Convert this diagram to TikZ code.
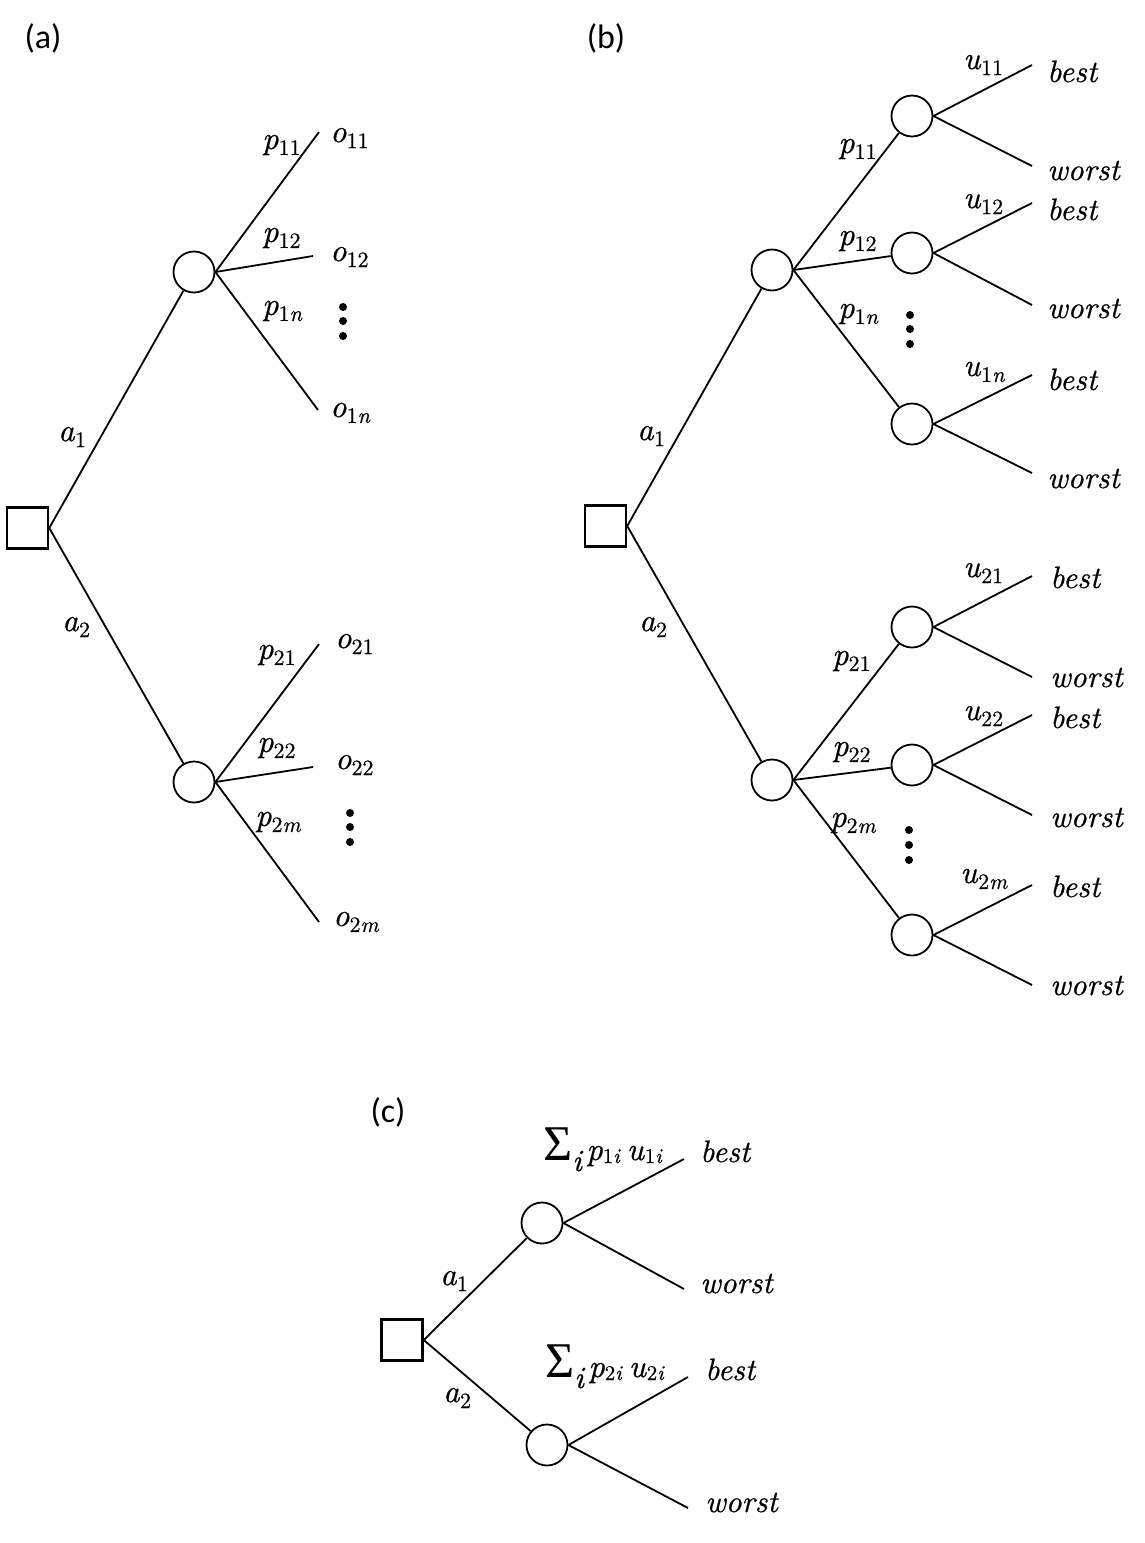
\documentclass[tikz,border=0pt]{standalone}
\usepackage{fontspec}
\setmainfont{lmroman10-regular.otf}[ItalicFont=lmroman10-italic.otf, FakeBold=0.6]
\newfontfamily\labfont{Carlito}
\newfontfamily\sigfont{Liberation Serif}
\newcommand\sublab[2]{\textit{#1}\raisebox{-6pt}{\fontsize{22}{22}\selectfont #2}}
\newcommand\sumlab[1]{{\sigfont\fontsize{50}{50}\selectfont Σ}\raisebox{-11pt}{\fontsize{31}{31}\selectfont\textit{i}}\hspace{3pt}{\fontsize{32}{32}\selectfont\textit{p}}\raisebox{-3pt}{\fontsize{21}{21}\selectfont #1\textit{i}}\hspace{6pt}{\fontsize{32}{32}\selectfont\textit{u}}\raisebox{-3pt}{\fontsize{21}{21}\selectfont #1\textit{i}}}
\tikzset{
  decbox/.style={draw, line width=2.5pt, minimum size=41pt, inner sep=0pt},
  chance/.style={draw, circle, line width=1.8pt, minimum size=41pt, inner sep=0pt},
  conn/.style={line width=1.8pt},
  lab/.style={inner sep=0pt, anchor=west, font=\fontsize{32}{36}\selectfont},
  leaf/.style={inner sep=0pt, anchor=base west, font=\fontsize{31}{36}\selectfont},
  panel/.style={inner sep=0pt, font=\labfont\fontsize{34}{40}\selectfont},
  dotmark/.style={circle, fill, inner sep=0pt, minimum size=8pt},
}
\begin{document}
\begin{tikzpicture}[x=1pt,y=-1pt]
\useasboundingbox (0,0) rectangle (1145,1543);
% ---------------- (a) ----------------
\node[panel] (pa) at (43,38) {(a)};
\node[decbox] (sqa) at (27.5,528) {};
\node[chance] (ca1) at (194,272) {};
\node[chance] (ca2) at (194,782) {};
\coordinate (ea11) at (319,132);
\coordinate (ea12) at (313,256);
\coordinate (ea13) at (318,410);
\coordinate (ea21) at (319,644);
\coordinate (ea22) at (313,767);
\coordinate (ea23) at (319,922);
\draw[conn] (sqa.east) -- (ca1);
\draw[conn] (sqa.east) -- (ca2);
\foreach \k in {1,2,3}{
  \draw[conn] (ca1.east) -- (ea1\k);
  \draw[conn] (ca2.east) -- (ea2\k);
}
\node[lab] (la1) at (58,437) {\sublab{a}{1}};
\node[lab] (la2) at (62,627) {\sublab{a}{2}};
\node[lab] (lp11) at (262,145) {\sublab{p}{11}};
\node[lab] (lo11) at (330,138) {\sublab{o}{11}};
\node[lab] (lp12) at (262,238) {\sublab{p}{12}};
\node[lab] (lo12) at (330,257) {\sublab{o}{12}};
\node[lab] (lp1n) at (262,311) {\sublab{p}{1\textit{n}}};
\node[lab] (lo1n) at (330,413) {\sublab{o}{1\textit{n}}};
\node[lab] (lp21) at (257,655) {\sublab{p}{21}};
\node[lab] (lo21) at (335,644) {\sublab{o}{21}};
\node[lab] (lp22) at (257,748) {\sublab{p}{22}};
\node[lab] (lo22) at (335,765) {\sublab{o}{22}};
\node[lab] (lp2m) at (255,822) {\sublab{p}{2\textit{m}}};
\node[lab] (lo2m) at (333,922) {\sublab{o}{2\textit{m}}};
\node[dotmark] (da1) at (343,307) {};
\node[dotmark] (da2) at (343,321) {};
\node[dotmark] (da3) at (343,336) {};
\node[dotmark] (da4) at (350,813) {};
\node[dotmark] (da5) at (350,827) {};
\node[dotmark] (da6) at (350,842) {};
% ---------------- (b) ----------------
\node[panel] (pb) at (606,38) {(b)};
\node[decbox] (sqb) at (605.5,526) {};
\node[chance] (mb1) at (772,270) {};
\node[chance] (mb2) at (772,780) {};
\node[chance] (rb11) at (912,116) {};
\node[chance] (rb12) at (912,253) {};
\node[chance] (rb13) at (912,424) {};
\node[chance] (rb21) at (912,627) {};
\node[chance] (rb22) at (912,765) {};
\node[chance] (rb23) at (912,935) {};
\draw[conn] (sqb.east) -- (mb1);
\draw[conn] (sqb.east) -- (mb2);
\foreach \k in {1,2,3}{
  \draw[conn] (mb1.east) -- (rb1\k);
  \draw[conn] (mb2.east) -- (rb2\k);
}
\coordinate (bb11) at (1032,65);  \coordinate (wb11) at (1032,166);
\coordinate (bb12) at (1032,203); \coordinate (wb12) at (1032,305);
\coordinate (bb13) at (1032,375); \coordinate (wb13) at (1032,473);
\coordinate (bb21) at (1032,576); \coordinate (wb21) at (1032,677);
\coordinate (bb22) at (1032,715); \coordinate (wb22) at (1032,815);
\coordinate (bb23) at (1032,885); \coordinate (wb23) at (1032,985);
\foreach \g in {1,2}{
  \foreach \k in {1,2,3}{
    \draw[conn] (rb\g\k.east) -- (bb\g\k);
    \draw[conn] (rb\g\k.east) -- (wb\g\k);
  }
}
\node[leaf] (tb11) at (1047,82) {\textit{best}};
\node[leaf] (tw11) at (1047,180) {\textit{worst}};
\node[leaf] (tb12) at (1047,220) {\textit{best}};
\node[leaf] (tw12) at (1047,318) {\textit{worst}};
\node[leaf] (tb13) at (1047,390) {\textit{best}};
\node[leaf] (tw13) at (1047,488) {\textit{worst}};
\node[leaf] (tb21) at (1050,588) {\textit{best}};
\node[leaf] (tw21) at (1050,687) {\textit{worst}};
\node[leaf] (tb22) at (1050,728) {\textit{best}};
\node[leaf] (tw22) at (1050,827) {\textit{worst}};
\node[leaf] (tb23) at (1050,897) {\textit{best}};
\node[leaf] (tw23) at (1050,995) {\textit{worst}};
\node[lab] (lba1) at (637,436) {\sublab{a}{1}};
\node[lab] (lba2) at (639,627) {\sublab{a}{2}};
\node[lab] (lbp11) at (838,149) {\sublab{p}{11}};
\node[lab] (lbp12) at (838,241) {\sublab{p}{12}};
\node[lab] (lbp1n) at (838,314) {\sublab{p}{1\textit{n}}};
\node[lab] (lbp21) at (832,661) {\sublab{p}{21}};
\node[lab] (lbp22) at (832,752) {\sublab{p}{22}};
\node[lab] (lbp2m) at (830,823) {\sublab{p}{2\textit{m}}};
\node[lab] (lbu11) at (963,65) {\sublab{u}{11}};
\node[lab] (lbu12) at (963,204) {\sublab{u}{12}};
\node[lab] (lbu1n) at (963,372) {\sublab{u}{1\textit{n}}};
\node[lab] (lbu21) at (963,573) {\sublab{u}{21}};
\node[lab] (lbu22) at (963,716) {\sublab{u}{22}};
\node[lab] (lbu2m) at (960,879) {\sublab{u}{2\textit{m}}};
\node[dotmark] (db1) at (910,315) {};
\node[dotmark] (db2) at (910,329) {};
\node[dotmark] (db3) at (910,344) {};
\node[dotmark] (db4) at (909,830) {};
\node[dotmark] (db5) at (909,845) {};
\node[dotmark] (db6) at (909,860) {};
% ---------------- (c) ----------------
\node[panel] (pc) at (388,1112) {(c)};
\node[decbox] (sqc) at (402,1340) {};
\node[chance] (cc1) at (542,1223) {};
\node[chance] (cc2) at (547,1445) {};
\draw[conn] (sqc.east) -- (cc1);
\draw[conn] (sqc.east) -- (cc2);
\coordinate (bc1) at (684,1159); \coordinate (wc1) at (684,1289);
\coordinate (bc2) at (688,1377); \coordinate (wc2) at (688,1508);
\draw[conn] (cc1.east) -- (bc1);
\draw[conn] (cc1.east) -- (wc1);
\draw[conn] (cc2.east) -- (bc2);
\draw[conn] (cc2.east) -- (wc2);
\node[leaf] (tcb1) at (700,1162) {\textit{best}};
\node[leaf] (tcw1) at (700,1293) {\textit{worst}};
\node[leaf] (tcb2) at (705,1380) {\textit{best}};
\node[leaf] (tcw2) at (705,1512) {\textit{worst}};
\node[lab] (lca1) at (440,1281) {\sublab{a}{1}};
\node[lab] (lca2) at (443,1398) {\sublab{a}{2}};
\node[inner sep=0pt, anchor=base west] (sum1) at (543,1160) {\sumlab{1}};
\node[inner sep=0pt, anchor=base west] (sum2) at (545,1377) {\sumlab{2}};
\end{tikzpicture}
\end{document}
